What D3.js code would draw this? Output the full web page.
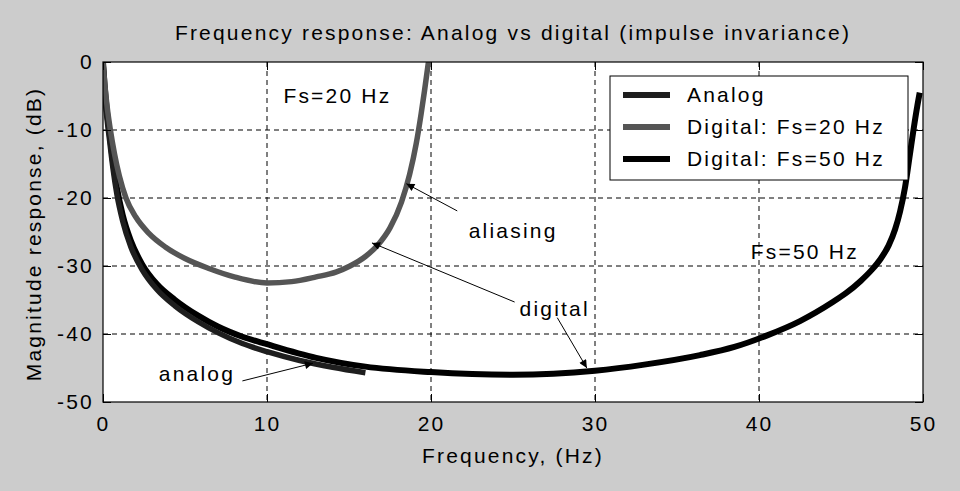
<!DOCTYPE html>
<html>
<head>
<meta charset="utf-8">
<script src="https://cdn.jsdelivr.net/npm/d3@7"></script>
<style>
  body { margin: 0; background: #cccccc; }
  text { font-family: "Liberation Sans", Arial, sans-serif; fill: #000; letter-spacing: 2.2px; }
</style>
</head>
<body>
<div id="chart"></div>
<script>
// values
const analogF  = [0, 0.1, 0.25, 0.4, 0.6, 0.85, 1.2, 1.7, 2.4, 3.3, 4.4, 5.8, 7, 8.5, 10, 12, 14, 16];
const analogDb = [0, -4.5, -8.5, -11.5, -15.5, -19.5, -23.4, -27.2, -30.6, -33.5, -35.9, -38.2, -39.8, -41.4, -42.6, -43.9, -44.9, -45.7];

const dig20F  = [0, 0.1, 0.25, 0.45, 0.7, 1.0, 1.4, 2, 2.8, 3.8, 5, 6.5, 8, 10, 11.5, 13, 14.2, 15.06, 16, 16.8, 17.5, 18.2, 18.7, 19.1, 19.4, 19.6, 19.8, 19.9];
const dig20Db = [0, -3, -6.5, -10, -13.5, -16.8, -20, -22.8, -25.2, -27.2, -28.9, -30.4, -31.6, -32.5, -32.3, -31.6, -30.9, -30, -28.6, -26.8, -24.4, -20.6, -16.5, -12, -7.6, -4.3, -0.8, 1];

const dig50F  = [0, 0.1, 0.25, 0.4, 0.6, 0.85, 1.2, 1.7, 2.4, 3.3, 4.4, 5.8, 7, 8.5, 10, 13, 16, 20, 25, 30, 33, 36.4, 38.5, 40.5, 42.5, 44.5, 45.3, 46.2, 46.9, 47.4, 47.9, 48.3, 48.6, 48.9, 49.2, 49.45, 49.65, 49.8];
const dig50Db = [0, -3.5, -7.5, -10.5, -14.5, -18.5, -22.5, -26.3, -29.8, -32.7, -35, -37.3, -38.9, -40.4, -41.5, -43.5, -44.8, -45.6, -46, -45.4, -44.5, -43.1, -41.9, -40.2, -38.1, -35.3, -34, -32.2, -30.5, -29, -27, -24.6, -22, -18.5, -13.6, -9.5, -6.5, -4.5];

const xTicks = [0, 10, 20, 30, 40, 50];
const yTicks = [0, -10, -20, -30, -40, -50];
const legendLabels = ["Analog", "Digital: Fs=20 Hz", "Digital: Fs=50 Hz"];

const series = [
  {name: legendLabels[0], f: analogF, db: analogDb, color: "#1e1e1e", w: 5.5},
  {name: legendLabels[1], f: dig20F, db: dig20Db, color: "#555555", w: 5.5},
  {name: legendLabels[2], f: dig50F, db: dig50Db, color: "#000000", w: 6}
];

const W = 960, H = 491;
const margin = {top: 62, right: 37, bottom: 89, left: 103};
const width = W - margin.left - margin.right;
const height = H - margin.top - margin.bottom;
const fs = "21px";

const svgRoot = d3.select("#chart").append("svg")
  .attr("width", W).attr("height", H)
  .style("display", "block");

svgRoot.append("rect").attr("width", W).attr("height", H).attr("fill", "#cccccc");

const svg = svgRoot.append("g")
  .attr("transform", `translate(${margin.left},${margin.top})`);

const x = d3.scaleLinear().domain([0, 50]).range([0, width]);
const y = d3.scaleLinear().domain([-50, 0]).range([height, 0]);

svg.append("rect").attr("width", width).attr("height", height).attr("fill", "#fff");

svg.append("clipPath").attr("id", "clip")
  .append("rect").attr("width", width).attr("height", height);

// grid
svg.append("g").selectAll("line")
  .data(xTicks.slice(1, -1))
  .enter().append("line")
  .attr("x1", d => x(d)).attr("x2", d => x(d))
  .attr("y1", 0).attr("y2", height)
  .attr("stroke", "#000").attr("stroke-dasharray", "5,4");

svg.append("g").selectAll("line")
  .data(yTicks.slice(1, -1))
  .enter().append("line")
  .attr("x1", 0).attr("x2", width)
  .attr("y1", d => y(d)).attr("y2", d => y(d))
  .attr("stroke", "#000").attr("stroke-dasharray", "5,4");

// curves
const line = d3.line()
  .x(d => x(d[0]))
  .y(d => y(d[1]))
  .curve(d3.curveMonotoneX);

const curves = svg.append("g").attr("clip-path", "url(#clip)");
// draw order: digital 50 underneath, analog, then 20 Hz on top
[series[2], series[0], series[1]].forEach(s => {
  curves.append("path")
    .datum(s.f.map((f, i) => [f, s.db[i]]))
    .attr("d", line)
    .attr("fill", "none")
    .attr("stroke", s.color)
    .attr("stroke-width", s.w)
    .attr("stroke-linejoin", "round");
});

// axes with inward ticks on all four sides
const tickLen = 8;
svg.append("g")
  .attr("transform", `translate(0,${height})`)
  .call(d3.axisBottom(x).tickValues(xTicks).tickSize(-tickLen).tickPadding(tickLen + 6))
  .call(g => g.select(".domain").remove());
svg.append("g")
  .call(d3.axisTop(x).tickValues(xTicks).tickSize(-tickLen).tickFormat(""))
  .call(g => g.select(".domain").remove());
svg.append("g")
  .call(d3.axisLeft(y).tickValues(yTicks).tickSize(-tickLen).tickPadding(9)
    .tickFormat(d => String(d)))
  .call(g => g.select(".domain").remove());
svg.append("g")
  .attr("transform", `translate(${width},0)`)
  .call(d3.axisRight(y).tickValues(yTicks).tickSize(-tickLen).tickFormat(""))
  .call(g => g.select(".domain").remove());

svg.selectAll(".tick text")
  .attr("font-size", fs)
  .attr("font-family", "Liberation Sans, Arial, sans-serif");
svg.selectAll(".tick line").attr("stroke", "#000");

svg.append("rect").attr("width", width).attr("height", height)
  .attr("fill", "none").attr("stroke", "#000").attr("stroke-width", 1.2);

// titles
svgRoot.append("text")
  .attr("x", margin.left + width / 2).attr("y", 40)
  .attr("text-anchor", "middle").attr("font-size", fs)
  .text("Frequency response: Analog vs digital (impulse invariance)");

svgRoot.append("text")
  .attr("x", margin.left + width / 2).attr("y", 463)
  .attr("text-anchor", "middle").attr("font-size", fs)
  .text("Frequency, (Hz)");

svgRoot.append("text")
  .attr("transform", `translate(41,${margin.top + height / 2 + 2}) rotate(-90)`)
  .attr("text-anchor", "middle").attr("font-size", fs)
  .text("Magnitude response, (dB)");

// annotations
const notes = [
  {t: "Fs=20 Hz", f: 11.0, db: -6.0},
  {t: "aliasing", f: 22.3, db: -25.9},
  {t: "digital", f: 25.4, db: -37.4},
  {t: "analog", f: 3.4, db: -46.9},
  {t: "Fs=50 Hz", f: 39.5, db: -29.0}
];
svg.selectAll(".note")
  .data(notes).enter().append("text")
  .attr("class", "note")
  .attr("x", d => x(d.f)).attr("y", d => y(d.db))
  .attr("font-size", fs)
  .text(d => d.t);

const arrows = [
  {f0: 21.6, db0: -21.9, f1: 18.5, db1: -17.9},
  {f0: 25.1, db0: -35.3, f1: 16.4, db1: -26.6},
  {f0: 27.7, db0: -37.6, f1: 29.5, db1: -45.0},
  {f0: 8.5, db0: -46.9, f1: 12.8, db1: -44.3}
];
svgRoot.append("defs").append("marker")
  .attr("id", "head")
  .attr("viewBox", "0 0 10 10")
  .attr("refX", 10).attr("refY", 5)
  .attr("markerWidth", 12).attr("markerHeight", 8)
  .attr("markerUnits", "userSpaceOnUse")
  .attr("orient", "auto")
  .append("path").attr("d", "M0,0L10,5L0,10Z").attr("fill", "#000");

svg.selectAll(".arrow")
  .data(arrows).enter().append("line")
  .attr("class", "arrow")
  .attr("x1", d => x(d.f0)).attr("y1", d => y(d.db0))
  .attr("x2", d => x(d.f1)).attr("y2", d => y(d.db1))
  .attr("stroke", "#000").attr("stroke-width", 1)
  .attr("marker-end", "url(#head)");

// legend
const lg = svgRoot.append("g").attr("transform", "translate(610,76)");
lg.append("rect").attr("width", 298).attr("height", 104)
  .attr("fill", "#fff").attr("stroke", "#000");
series.forEach((s, i) => {
  const yy = 19 + i * 32;
  lg.append("line")
    .attr("x1", 13).attr("x2", 60).attr("y1", yy).attr("y2", yy)
    .attr("stroke", s.color).attr("stroke-width", 6);
  lg.append("text")
    .attr("x", 77).attr("y", yy + 7)
    .attr("font-size", fs)
    .text(s.name);
});
</script>
</body>
</html>
